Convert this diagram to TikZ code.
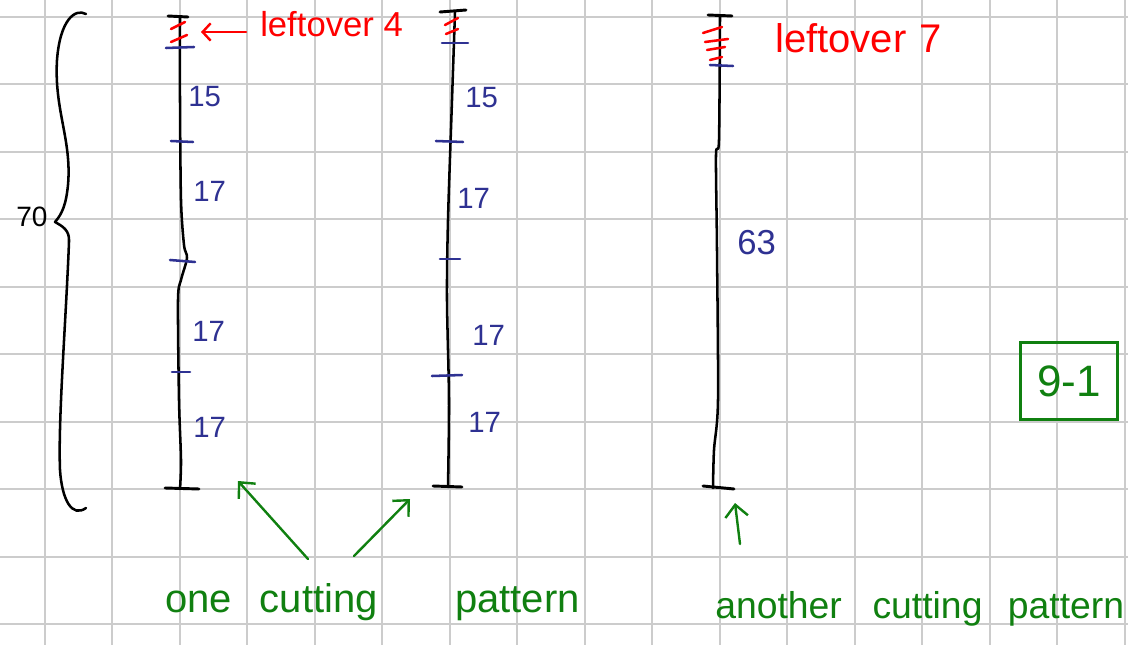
\documentclass[tikz,border=0pt]{standalone}
\usepackage{fontspec}
\setmainfont{Liberation Sans}
\usetikzlibrary{arrows.meta}
\definecolor{gridc}{HTML}{CCCCCC}
\definecolor{pblue}{HTML}{2E3192}
\definecolor{pred}{HTML}{FF0000}
\definecolor{pgreen}{HTML}{108010}
\begin{document}
\begin{tikzpicture}[x=0.75pt,y=-0.75pt,
  gridline/.style={gridc,line width=1.5pt},
  bar/.style={black,line width=1.9pt,line cap=round,line join=round},
  capline/.style={black,line width=2.2pt,line cap=round},
  cutline/.style={pblue,line width=1.9pt,line cap=round},
  hatch/.style={pred,line width=1.9pt,line cap=round},
  num/.style={pblue,font=\fontsize{22}{22}\selectfont,anchor=base west,inner sep=0pt},
  redtxt/.style={pred,anchor=base west,inner sep=0pt},
  greentxt/.style={pgreen,anchor=base west,inner sep=0pt},
  garrow/.style={pgreen,line width=1.8pt,line cap=round,line join=round,-{Straight Barb[length=9pt,width=17pt,line width=1.8pt]}},
  rarrow/.style={pred,line width=1.8pt,line cap=round,line join=round,-{Straight Barb[length=6pt,width=13pt,line width=1.8pt]}},
]
\fill[white] (0,0) rectangle (1128,645);
\useasboundingbox (0,0) rectangle (1128,645);
% grid
\foreach \i in {0,...,16} \draw[gridline] ({44.5+67.5*\i},0) -- ({44.5+67.5*\i},645);
\foreach \j in {0,...,9} \draw[gridline] (0,{16.7+67.5*\j}) -- (1128,{16.7+67.5*\j});

% brace
\draw[bar] (86,14) .. controls (75,8) and (60,20) .. (57,60)
  .. controls (54,110) and (72,140) .. (68,185)
  .. controls (66,205) and (62,214) .. (55,222)
  .. controls (62,226) and (70,230) .. (69,242)
  .. controls (66,320) and (58,420) .. (60,470)
  .. controls (62,500) and (72,518) .. (86,508);
\node[anchor=base west,inner sep=0pt,font=\fontsize{21}{21}\selectfont] (seventy) at (16,227) {70};

% bar 1
\draw[bar] plot[smooth] coordinates {(180,17) (180,100) (181,200) (184,245) (187,258) (181,280) (178,300) (179,400) (181,460) (180,489)};
\draw[capline] (168,16) -- (188,17);
\draw[capline] (165,488) -- (199,489);
\draw[hatch] (171,29) -- (185,22);
\draw[hatch] (171,42) -- (187,35);
\draw[cutline] (166,48) -- (194,47);
\draw[cutline] (171,141) -- (193,142);
\draw[cutline] (170,260) -- (195,262);
\draw[cutline] (172,372) -- (190,372);
\node[num] (a15) at (188,107) {15};
\node[num] (a17a) at (193,202) {17};
\node[num] (a17b) at (192,341) {17};
\node[num] (a17c) at (193,437) {17};
\coordinate (bartop1) at (201,32);
\node[redtxt,font=\fontsize{26}{26}\selectfont] (lo4) at (260,37) {leftover 4};
\draw[rarrow] (lo4.base west) ++(-14,-5) -- (bartop1);

% bar 2
\draw[bar] plot[smooth] coordinates {(455,12) (452,100) (448,220) (447,300) (449,400) (448,487)};
\draw[capline] (440,12) -- (466,10);
\draw[capline] (433,486) -- (462,487);
\draw[hatch] (445,25) -- (458,18);
\draw[hatch] (446,34) -- (458,29);
\draw[cutline] (442,43) -- (468,43);
\draw[cutline] (436,141) -- (463,142);
\draw[cutline] (440,259) -- (460,259);
\draw[cutline] (432,376) -- (462,375);
\node[num] (b15) at (465,108) {15};
\node[num] (b17a) at (457,209) {17};
\node[num] (b17b) at (472,345) {17};
\node[num] (b17c) at (468,432) {17};

% bar 3
\draw[bar] plot[smooth] coordinates {(720,16) (719,140) (716,155) (717,250) (718,400) (714,450) (713,488)};
\draw[capline] (708,15) -- (732,16);
\draw[capline] (703,486) -- (734,489);
\draw[hatch] (703,33) -- (722,27);
\draw[hatch] (705,42) -- (728,39);
\draw[hatch] (707,50) -- (725,47);
\draw[hatch] (710,60) -- (722,57);
\draw[cutline] (710,65) -- (733,66);
\node[num,font=\fontsize{26}{26}\selectfont] (c63) at (737,255) {63};
\node[redtxt,font=\fontsize{30}{30}\selectfont] (lo7) at (775,53) {leftover\hspace{10pt}7};

% box
\node[draw=pgreen,line width=1.8pt,minimum width=73pt,minimum height=58pt,inner sep=0pt,text=pgreen,font=\fontsize{33}{33}\selectfont] (nine) at (1069,381) {9-1};

% bottom texts and arrows
\node[greentxt,font=\fontsize{30}{30}\selectfont] (one) at (165,612) {one\hspace{21pt}cutting\hspace{58pt}pattern};
\node[greentxt,font=\fontsize{28}{28}\selectfont] (another) at (715,618) {another\hspace{23pt}cutting\hspace{19pt}pattern};
\coordinate (t1) at (308,559);
\coordinate (h1) at (238,481);
\coordinate (t2) at (354,556);
\coordinate (h2) at (410,499);
\coordinate (t3) at (740,544);
\coordinate (h3) at (735,503);
\draw[garrow] (t1) -- (h1);
\draw[garrow] (t2) -- (h2);
\draw[garrow] (t3) -- (h3);
\end{tikzpicture}
\end{document}
